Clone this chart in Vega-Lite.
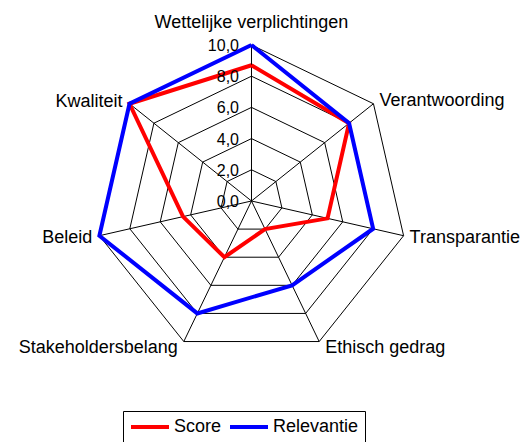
{
  "$schema": "https://vega.github.io/schema/vega-lite/v6.json",
  "width": 527,
  "height": 442,
  "autosize": {"type": "none"},
  "padding": 0,
  "background": "white",
  "config": {"view": {"stroke": null}, "text": {"font": "Liberation Sans", "color": "black"}},
  "datasets": {
    "grid": [
      {"r": 2, "k": [0, 1, 2, 3, 4, 5, 6, 7]},
      {"r": 4, "k": [0, 1, 2, 3, 4, 5, 6, 7]},
      {"r": 6, "k": [0, 1, 2, 3, 4, 5, 6, 7]},
      {"r": 8, "k": [0, 1, 2, 3, 4, 5, 6, 7]},
      {"r": 10, "k": [0, 1, 2, 3, 4, 5, 6, 7]}
    ],
    "spokes": [
      {"k": 0, "r": [0, 10]}, {"k": 1, "r": [0, 10]}, {"k": 2, "r": [0, 10]},
      {"k": 3, "r": [0, 10]}, {"k": 4, "r": [0, 10]}, {"k": 5, "r": [0, 10]},
      {"k": 6, "r": [0, 10]}
    ],
    "series": [
      {"series": "Score", "k": 0, "cat": "Wettelijke verplichtingen", "r": 8.7},
      {"series": "Score", "k": 1, "cat": "Verantwoording", "r": 8.0},
      {"series": "Score", "k": 2, "cat": "Transparantie", "r": 5.0},
      {"series": "Score", "k": 3, "cat": "Ethisch gedrag", "r": 2.0},
      {"series": "Score", "k": 4, "cat": "Stakeholdersbelang", "r": 4.0},
      {"series": "Score", "k": 5, "cat": "Beleid", "r": 4.5},
      {"series": "Score", "k": 6, "cat": "Kwaliteit", "r": 10.0},
      {"series": "Score", "k": 7, "cat": "Wettelijke verplichtingen", "r": 8.7},
      {"series": "Relevantie", "k": 0, "cat": "Wettelijke verplichtingen", "r": 10.0},
      {"series": "Relevantie", "k": 1, "cat": "Verantwoording", "r": 8.0},
      {"series": "Relevantie", "k": 2, "cat": "Transparantie", "r": 8.0},
      {"series": "Relevantie", "k": 3, "cat": "Ethisch gedrag", "r": 6.0},
      {"series": "Relevantie", "k": 4, "cat": "Stakeholdersbelang", "r": 8.0},
      {"series": "Relevantie", "k": 5, "cat": "Beleid", "r": 10.0},
      {"series": "Relevantie", "k": 6, "cat": "Kwaliteit", "r": 10.0},
      {"series": "Relevantie", "k": 7, "cat": "Wettelijke verplichtingen", "r": 10.0}
    ],
    "cats": [
      {"cat": "Wettelijke verplichtingen", "k": 0, "r": 10},
      {"cat": "Verantwoording", "k": 1, "r": 10},
      {"cat": "Transparantie", "k": 2, "r": 10},
      {"cat": "Ethisch gedrag", "k": 3, "r": 10},
      {"cat": "Stakeholdersbelang", "k": 4, "r": 10},
      {"cat": "Beleid", "k": 5, "r": 10},
      {"cat": "Kwaliteit", "k": 6, "r": 10}
    ],
    "ticks": [
      {"lab": "0,0", "r": 0}, {"lab": "2,0", "r": 2}, {"lab": "4,0", "r": 4},
      {"lab": "6,0", "r": 6}, {"lab": "8,0", "r": 8}, {"lab": "10,0", "r": 10}
    ]
  },
  "layer": [
    {
      "data": {"name": "grid"},
      "transform": [
        {"flatten": ["k"]},
        {"calculate": "datum.r*sin(datum.k*2*PI/7)", "as": "px"},
        {"calculate": "datum.r*cos(datum.k*2*PI/7)", "as": "py"}
      ],
      "mark": {"type": "line", "color": "black", "strokeWidth": 1},
      "encoding": {
        "x": {"field": "px", "type": "quantitative", "scale": {"domain": [-16.12, 17.66], "nice": false, "zero": false}, "axis": null},
        "y": {"field": "py", "type": "quantitative", "scale": {"domain": [-15.45, 12.885], "nice": false, "zero": false}, "axis": null},
        "detail": {"field": "r"},
        "order": {"field": "k", "type": "quantitative"}
      }
    },
    {
      "data": {"name": "spokes"},
      "transform": [
        {"flatten": ["r"]},
        {"calculate": "datum.r*sin(datum.k*2*PI/7)", "as": "px"},
        {"calculate": "datum.r*cos(datum.k*2*PI/7)", "as": "py"}
      ],
      "mark": {"type": "line", "color": "black", "strokeWidth": 1},
      "encoding": {
        "x": {"field": "px", "type": "quantitative", "scale": {"domain": [-16.12, 17.66], "nice": false, "zero": false}, "axis": null},
        "y": {"field": "py", "type": "quantitative", "scale": {"domain": [-15.45, 12.885], "nice": false, "zero": false}, "axis": null},
        "detail": {"field": "k"},
        "order": {"field": "r", "type": "quantitative"}
      }
    },
    {
      "data": {"name": "series"},
      "transform": [
        {"calculate": "datum.r*sin(datum.k*2*PI/7)", "as": "px"},
        {"calculate": "datum.r*cos(datum.k*2*PI/7)", "as": "py"}
      ],
      "mark": {"type": "line", "strokeWidth": 4, "strokeJoin": "miter", "strokeCap": "butt"},
      "encoding": {
        "x": {"field": "px", "type": "quantitative", "scale": {"domain": [-16.12, 17.66], "nice": false, "zero": false}, "axis": null},
        "y": {"field": "py", "type": "quantitative", "scale": {"domain": [-15.45, 12.885], "nice": false, "zero": false}, "axis": null},
        "order": {"field": "k", "type": "quantitative"},
        "color": {
          "field": "series", "type": "nominal",
          "scale": {"domain": ["Score", "Relevantie"], "range": ["#ff0000", "#0000ff"]},
          "legend": {
            "orient": "none", "legendX": 123, "legendY": 411, "direction": "horizontal",
            "title": null, "symbolType": "stroke", "symbolSize": 1444, "symbolStrokeWidth": 4,
            "labelFont": "Liberation Sans", "labelFontSize": 18, "labelColor": "black",
            "strokeColor": "black", "fillColor": "white", "padding": 6, "clipHeight": 20,
            "labelOffset": 3, "columnPadding": 6
          }
        }
      }
    },
    {
      "data": {"name": "ticks"},
      "transform": [
        {"calculate": "0", "as": "px"},
        {"calculate": "datum.r", "as": "py"}
      ],
      "mark": {"type": "text", "align": "right", "baseline": "alphabetic", "dx": -12.5, "dy": 6, "fontSize": 16},
      "encoding": {
        "x": {"field": "px", "type": "quantitative", "scale": {"domain": [-16.12, 17.66], "nice": false, "zero": false}, "axis": null},
        "y": {"field": "py", "type": "quantitative", "scale": {"domain": [-15.45, 12.885], "nice": false, "zero": false}, "axis": null},
        "text": {"field": "lab"}
      }
    },
    {
      "data": {"name": "cats"},
      "transform": [
        {"calculate": "datum.r*sin(datum.k*2*PI/7)", "as": "px"},
        {"calculate": "datum.r*cos(datum.k*2*PI/7)", "as": "py"}
      ],
      "encoding": {
        "x": {"field": "px", "type": "quantitative", "scale": {"domain": [-16.12, 17.66], "nice": false, "zero": false}, "axis": null},
        "y": {"field": "py", "type": "quantitative", "scale": {"domain": [-15.45, 12.885], "nice": false, "zero": false}, "axis": null},
        "text": {"field": "cat"}
      },
      "layer": [
        {"transform": [{"filter": "datum.k == 0"}], "mark": {"type": "text", "align": "center", "baseline": "alphabetic", "dy": -17, "fontSize": 18}},
        {"transform": [{"filter": "datum.k == 1"}], "mark": {"type": "text", "align": "left", "baseline": "alphabetic", "dx": 6, "dy": 2.5, "fontSize": 18}},
        {"transform": [{"filter": "datum.k == 2"}], "mark": {"type": "text", "align": "left", "baseline": "alphabetic", "dx": 6, "dy": 7.5, "fontSize": 18}},
        {"transform": [{"filter": "datum.k == 3"}], "mark": {"type": "text", "align": "left", "baseline": "alphabetic", "dx": 6, "dy": 11, "fontSize": 18}},
        {"transform": [{"filter": "datum.k == 4"}], "mark": {"type": "text", "align": "right", "baseline": "alphabetic", "dx": -6, "dy": 11, "fontSize": 18}},
        {"transform": [{"filter": "datum.k == 5"}], "mark": {"type": "text", "align": "right", "baseline": "alphabetic", "dx": -7, "dy": 7.5, "fontSize": 18}},
        {"transform": [{"filter": "datum.k == 6"}], "mark": {"type": "text", "align": "right", "baseline": "alphabetic", "dx": -7, "dy": 3, "fontSize": 18}}
      ]
    }
  ]
}
